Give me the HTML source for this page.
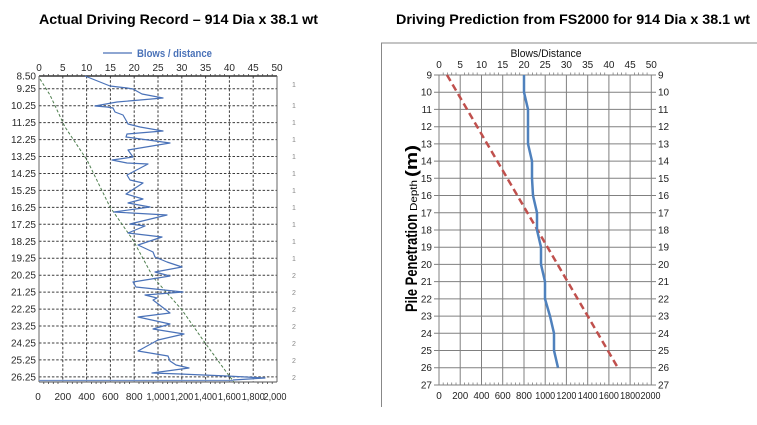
<!DOCTYPE html>
<html><head><meta charset="utf-8">
<style>
html,body{margin:0;padding:0;background:#fff;}
svg{display:block;}
text{font-family:"Liberation Sans",sans-serif;}
</style></head>
<body>
<svg width="757" height="425" viewBox="0 0 757 425" xmlns="http://www.w3.org/2000/svg">
<rect width="757" height="425" fill="#fff"/>

<!-- Titles -->
<text x="39" y="24" font-size="14" font-weight="bold" fill="#000" textLength="279" lengthAdjust="spacingAndGlyphs">Actual Driving Record – 914 Dia x 38.1 wt</text>
<text x="396" y="24" font-size="14" font-weight="bold" fill="#000" textLength="354" lengthAdjust="spacingAndGlyphs">Driving Prediction from FS2000 for 914 Dia x 38.1 wt</text>

<!-- ================= LEFT CHART ================= -->
<g>
  <!-- legend -->
  <line x1="103" y1="53" x2="132" y2="53" stroke="#4a72b8" stroke-width="1.2"/>
  <text x="137" y="57" font-size="11" font-weight="bold" fill="#4a72b8" textLength="75" lengthAdjust="spacingAndGlyphs">Blows / distance</text>

  <!-- vertical dashed grid -->
  <g stroke="#3c3c3c" stroke-width="1" stroke-dasharray="2.5,1.8">
    <line x1="62.8" y1="76" x2="62.8" y2="382"/>
    <line x1="86.6" y1="76" x2="86.6" y2="382"/>
    <line x1="110.4" y1="76" x2="110.4" y2="382"/>
    <line x1="134.2" y1="76" x2="134.2" y2="382"/>
    <line x1="158" y1="76" x2="158" y2="382"/>
    <line x1="181.8" y1="76" x2="181.8" y2="382"/>
    <line x1="205.6" y1="76" x2="205.6" y2="382"/>
    <line x1="229.4" y1="76" x2="229.4" y2="382"/>
    <line x1="253.2" y1="76" x2="253.2" y2="382"/>
  </g>
  <!-- horizontal dashed grid -->
  <g stroke="#3c3c3c" stroke-width="1" stroke-dasharray="2.5,1.8">
    <line x1="39" y1="88.7" x2="277" y2="88.7"/>
    <line x1="39" y1="105.7" x2="277" y2="105.7"/>
    <line x1="39" y1="122.6" x2="277" y2="122.6"/>
    <line x1="39" y1="139.6" x2="277" y2="139.6"/>
    <line x1="39" y1="156.5" x2="277" y2="156.5"/>
    <line x1="39" y1="173.5" x2="277" y2="173.5"/>
    <line x1="39" y1="190.4" x2="277" y2="190.4"/>
    <line x1="39" y1="207.4" x2="277" y2="207.4"/>
    <line x1="39" y1="224.3" x2="277" y2="224.3"/>
    <line x1="39" y1="241.3" x2="277" y2="241.3"/>
    <line x1="39" y1="258.2" x2="277" y2="258.2"/>
    <line x1="39" y1="275.2" x2="277" y2="275.2"/>
    <line x1="39" y1="292.1" x2="277" y2="292.1"/>
    <line x1="39" y1="309.1" x2="277" y2="309.1"/>
    <line x1="39" y1="326" x2="277" y2="326"/>
    <line x1="39" y1="343" x2="277" y2="343"/>
    <line x1="39" y1="359.9" x2="277" y2="359.9"/>
    <line x1="39" y1="376.9" x2="277" y2="376.9"/>
  </g>
  <!-- frame -->
  <line x1="39" y1="76" x2="277" y2="76" stroke="#333" stroke-width="1.6"/>
  <line x1="39" y1="76" x2="39" y2="382" stroke="#666" stroke-width="1"/>
  <line x1="277" y1="76" x2="277" y2="382" stroke="#666" stroke-width="1"/>
  <line x1="39" y1="382" x2="277" y2="382" stroke="#555" stroke-width="1"/>
  <!-- top minor ticks -->
  <g stroke="#444" stroke-width="0.8">
    <path d="M43.8 76v-2M48.5 76v-2M53.3 76v-2M58 76v-2M67.6 76v-2M72.3 76v-2M77.1 76v-2M81.8 76v-2M91.4 76v-2M96.1 76v-2M100.9 76v-2M105.6 76v-2M115.2 76v-2M119.9 76v-2M124.7 76v-2M129.4 76v-2M139 76v-2M143.7 76v-2M148.5 76v-2M153.2 76v-2M162.8 76v-2M167.5 76v-2M172.3 76v-2M177 76v-2M186.6 76v-2M191.3 76v-2M196.1 76v-2M200.8 76v-2M210.4 76v-2M215.1 76v-2M219.9 76v-2M224.6 76v-2M234.2 76v-2M238.9 76v-2M243.7 76v-2M248.4 76v-2M258 76v-2M262.7 76v-2M267.5 76v-2M272.2 76v-2"/>
    <path d="M43.8 382v2M48.5 382v2M53.3 382v2M58 382v2M67.6 382v2M72.3 382v2M77.1 382v2M81.8 382v2M91.4 382v2M96.1 382v2M100.9 382v2M105.6 382v2M115.2 382v2M119.9 382v2M124.7 382v2M129.4 382v2M139 382v2M143.7 382v2M148.5 382v2M153.2 382v2M162.8 382v2M167.5 382v2M172.3 382v2M177 382v2M186.6 382v2M191.3 382v2M196.1 382v2M200.8 382v2M210.4 382v2M215.1 382v2M219.9 382v2M224.6 382v2M234.2 382v2M238.9 382v2M243.7 382v2M248.4 382v2M258 382v2M262.7 382v2M267.5 382v2M272.2 382v2"/>
  </g>
  <!-- green dashed trend -->
  <polyline fill="none" stroke="#4f7f4f" stroke-width="1" stroke-dasharray="3,2"
    points="40,79 50,95 65,127 87,160 110,207 133,240 153,277 182,310 203,340 227,373 234,382"/>
  <!-- bottom blue line -->
  <line x1="39" y1="380.5" x2="233" y2="380.5" stroke="#6f8fc8" stroke-width="1.3"/>
  <!-- blue series -->
  <polyline fill="none" stroke="#4a72b8" stroke-width="1.2" stroke-linejoin="round"
    points="85,76 110,86 127,88 133,89 142,94 163,98 117,102 95,106 107,107 113,108 115,112 123,115 127,122 128,124 140,127 163,131 127,134 126,137 170,143 128,150 133,157 112,160 127,163 148,164 127,175 130,180 143,183 126,194 143,199 128,203 150,207 114,212 167,215 130,224 145,226 128,233 162,237 138,245 153,252 155,257 167,262 182,267 155,272 170,276 133,282 136,287 183,292 145,295 157,298 153,300 170,313 138,317 170,324 153,329 184,334 158,340 138,351 162,355 168,356 170,361 176,365 189,368 152,373 180,374 227,376 265,378 233,380"/>

  <!-- top labels -->
  <g font-size="10" fill="#2a2a2a" text-anchor="middle">
    <text x="39" y="71">0</text><text x="62.8" y="71">5</text><text x="86.6" y="71">10</text>
    <text x="110.4" y="71">15</text><text x="134.2" y="71">20</text><text x="158" y="71">25</text>
    <text x="181.8" y="71">30</text><text x="205.6" y="71">35</text><text x="229.4" y="71">40</text>
    <text x="253.2" y="71">45</text><text x="277" y="71">50</text>
  </g>
  <!-- left labels -->
  <g font-size="10" fill="#2a2a2a" text-anchor="end">
    <text x="36" y="79.5">8.50</text><text x="36" y="92.2">9.25</text>
    <text x="36" y="109.2">10.25</text><text x="36" y="126.1">11.25</text>
    <text x="36" y="143.1">12.25</text><text x="36" y="160">13.25</text>
    <text x="36" y="177">14.25</text><text x="36" y="193.9">15.25</text>
    <text x="36" y="210.9">16.25</text><text x="36" y="227.8">17.25</text>
    <text x="36" y="244.8">18.25</text><text x="36" y="261.7">19.25</text>
    <text x="36" y="278.7">20.25</text><text x="36" y="295.6">21.25</text>
    <text x="36" y="312.6">22.25</text><text x="36" y="329.5">23.25</text>
    <text x="36" y="346.5">24.25</text><text x="36" y="363.4">25.25</text>
    <text x="36" y="380.4">26.25</text>
  </g>
  <!-- bottom labels -->
  <g font-size="10" fill="#2a2a2a" text-anchor="middle">
    <text x="38" y="400">0</text><text x="62.8" y="400">200</text><text x="86.6" y="400">400</text>
    <text x="110.4" y="400">600</text><text x="134.2" y="400">800</text>
    <text x="158" y="400" textLength="23" lengthAdjust="spacingAndGlyphs">1,000</text>
    <text x="181.8" y="400" textLength="23" lengthAdjust="spacingAndGlyphs">1,200</text>
    <text x="205.6" y="400" textLength="23" lengthAdjust="spacingAndGlyphs">1,400</text>
    <text x="229.4" y="400" textLength="23" lengthAdjust="spacingAndGlyphs">1,600</text>
    <text x="253.2" y="400" textLength="23" lengthAdjust="spacingAndGlyphs">1,800</text>
    <text x="275" y="400" textLength="23" lengthAdjust="spacingAndGlyphs">2,000</text>
  </g>
  <!-- clipped right labels -->
  <g font-size="7" fill="#888">
    <text x="292" y="87">1</text><text x="292" y="108">1</text><text x="292" y="125">1</text>
    <text x="292" y="142">1</text><text x="292" y="159">1</text><text x="292" y="176">1</text>
    <text x="292" y="193">1</text><text x="292" y="210">1</text><text x="292" y="227">1</text>
    <text x="292" y="244">1</text><text x="292" y="261">1</text><text x="292" y="278">2</text>
    <text x="292" y="295">2</text><text x="292" y="312">2</text><text x="292" y="329">2</text>
    <text x="292" y="346">2</text><text x="292" y="363">2</text><text x="292" y="380">2</text>
  </g>
</g>

<!-- ================= RIGHT CHART ================= -->
<g>
  <!-- box -->
  <line x1="381" y1="43" x2="757" y2="43" stroke="#888" stroke-width="1"/>
  <line x1="381.5" y1="43" x2="381.5" y2="407" stroke="#888" stroke-width="1"/>

  <text x="546" y="57" font-size="11" fill="#111" text-anchor="middle" textLength="71" lengthAdjust="spacingAndGlyphs">Blows/Distance</text>

  <!-- grid -->
  <g stroke="#808080" stroke-width="1">
    <line x1="439" y1="75" x2="439" y2="385"/>
    <line x1="460.2" y1="75" x2="460.2" y2="385"/>
    <line x1="481.5" y1="75" x2="481.5" y2="385"/>
    <line x1="502.7" y1="75" x2="502.7" y2="385"/>
    <line x1="524" y1="75" x2="524" y2="385"/>
    <line x1="545.2" y1="75" x2="545.2" y2="385"/>
    <line x1="566.4" y1="75" x2="566.4" y2="385"/>
    <line x1="587.7" y1="75" x2="587.7" y2="385"/>
    <line x1="608.9" y1="75" x2="608.9" y2="385"/>
    <line x1="630.1" y1="75" x2="630.1" y2="385"/>
    <line x1="651.3" y1="75" x2="651.3" y2="385"/>
  </g>
  <g stroke="#808080" stroke-width="1">
    <line x1="434" y1="75" x2="656" y2="75"/>
    <line x1="434" y1="92.2" x2="656" y2="92.2"/>
    <line x1="434" y1="109.4" x2="656" y2="109.4"/>
    <line x1="434" y1="126.7" x2="656" y2="126.7"/>
    <line x1="434" y1="143.9" x2="656" y2="143.9"/>
    <line x1="434" y1="161.1" x2="656" y2="161.1"/>
    <line x1="434" y1="178.3" x2="656" y2="178.3"/>
    <line x1="434" y1="195.5" x2="656" y2="195.5"/>
    <line x1="434" y1="212.8" x2="656" y2="212.8"/>
    <line x1="434" y1="230" x2="656" y2="230"/>
    <line x1="434" y1="247.2" x2="656" y2="247.2"/>
    <line x1="434" y1="264.4" x2="656" y2="264.4"/>
    <line x1="434" y1="281.6" x2="656" y2="281.6"/>
    <line x1="434" y1="298.9" x2="656" y2="298.9"/>
    <line x1="434" y1="316.1" x2="656" y2="316.1"/>
    <line x1="434" y1="333.3" x2="656" y2="333.3"/>
    <line x1="434" y1="350.5" x2="656" y2="350.5"/>
    <line x1="434" y1="367.7" x2="656" y2="367.7"/>
    <line x1="434" y1="385" x2="656" y2="385"/>
  </g>
  <!-- minor ticks top & bottom -->
  <g stroke="#808080" stroke-width="0.8">
    <path d="M443.2 75v-2.5M447.5 75v-2.5M451.7 75v-2.5M456 75v-2.5M464.5 75v-2.5M468.7 75v-2.5M473 75v-2.5M477.2 75v-2.5M485.7 75v-2.5M490 75v-2.5M494.2 75v-2.5M498.5 75v-2.5M507 75v-2.5M511.2 75v-2.5M515.5 75v-2.5M519.7 75v-2.5M528.2 75v-2.5M532.5 75v-2.5M536.7 75v-2.5M541 75v-2.5M549.4 75v-2.5M553.7 75v-2.5M557.9 75v-2.5M562.2 75v-2.5M570.7 75v-2.5M574.9 75v-2.5M579.2 75v-2.5M583.4 75v-2.5M591.9 75v-2.5M596.2 75v-2.5M600.4 75v-2.5M604.7 75v-2.5M613.1 75v-2.5M617.4 75v-2.5M621.6 75v-2.5M625.9 75v-2.5M634.4 75v-2.5M638.6 75v-2.5M642.9 75v-2.5M647.1 75v-2.5"/>
    <path d="M443.2 385v-2.5M447.5 385v-2.5M451.7 385v-2.5M456 385v-2.5M464.5 385v-2.5M468.7 385v-2.5M473 385v-2.5M477.2 385v-2.5M485.7 385v-2.5M490 385v-2.5M494.2 385v-2.5M498.5 385v-2.5M507 385v-2.5M511.2 385v-2.5M515.5 385v-2.5M519.7 385v-2.5M528.2 385v-2.5M532.5 385v-2.5M536.7 385v-2.5M541 385v-2.5M549.4 385v-2.5M553.7 385v-2.5M557.9 385v-2.5M562.2 385v-2.5M570.7 385v-2.5M574.9 385v-2.5M579.2 385v-2.5M583.4 385v-2.5M591.9 385v-2.5M596.2 385v-2.5M600.4 385v-2.5M604.7 385v-2.5M613.1 385v-2.5M617.4 385v-2.5M621.6 385v-2.5M625.9 385v-2.5M634.4 385v-2.5M638.6 385v-2.5M642.9 385v-2.5M647.1 385v-2.5"/>
  </g>

  <!-- red dashed prediction -->
  <line x1="447" y1="75" x2="618" y2="368" stroke="#c0504d" stroke-width="2.5" stroke-dasharray="7,4"/>
  <!-- blue series -->
  <polyline fill="none" stroke="#4f81bd" stroke-width="2.5" stroke-linejoin="round"
    points="524,75 524,92.2 528,109.4 528,126.7 528,143.9 532,161.1 532,178.3 533,195.5 537,212.8 537,230 541,247.2 541,264.4 545,281.6 545,298.9 550,316.1 554,333.3 554,350.5 558,367.7"/>

  <!-- top labels -->
  <g font-size="10" fill="#222" text-anchor="middle">
    <text x="439" y="68">0</text><text x="460.2" y="68">5</text><text x="481.5" y="68">10</text>
    <text x="502.7" y="68">15</text><text x="524" y="68">20</text><text x="545.2" y="68">25</text>
    <text x="566.4" y="68">30</text><text x="587.7" y="68">35</text><text x="608.9" y="68">40</text>
    <text x="630.1" y="68">45</text><text x="651.3" y="68">50</text>
  </g>
  <!-- left labels -->
  <g font-size="10" fill="#222" text-anchor="end">
    <text x="432" y="78.5">9</text><text x="432" y="95.7">10</text><text x="432" y="112.9">11</text>
    <text x="432" y="130.2">12</text><text x="432" y="147.4">13</text><text x="432" y="164.6">14</text>
    <text x="432" y="181.8">15</text><text x="432" y="199">16</text><text x="432" y="216.3">17</text>
    <text x="432" y="233.5">18</text><text x="432" y="250.7">19</text><text x="432" y="267.9">20</text>
    <text x="432" y="285.1">21</text><text x="432" y="302.4">22</text><text x="432" y="319.6">23</text>
    <text x="432" y="336.8">24</text><text x="432" y="354">25</text><text x="432" y="371.2">26</text>
    <text x="432" y="388.5">27</text>
  </g>
  <!-- right labels -->
  <g font-size="10" fill="#222" text-anchor="start">
    <text x="658" y="78.5">9</text><text x="658" y="95.7">10</text><text x="658" y="112.9">11</text>
    <text x="658" y="130.2">12</text><text x="658" y="147.4">13</text><text x="658" y="164.6">14</text>
    <text x="658" y="181.8">15</text><text x="658" y="199">16</text><text x="658" y="216.3">17</text>
    <text x="658" y="233.5">18</text><text x="658" y="250.7">19</text><text x="658" y="267.9">20</text>
    <text x="658" y="285.1">21</text><text x="658" y="302.4">22</text><text x="658" y="319.6">23</text>
    <text x="658" y="336.8">24</text><text x="658" y="354">25</text><text x="658" y="371.2">26</text>
    <text x="658" y="388.5">27</text>
  </g>
  <!-- bottom labels -->
  <g font-size="10" fill="#222" text-anchor="middle">
    <text x="439" y="399">0</text>
    <text x="460.2" y="399" textLength="16" lengthAdjust="spacingAndGlyphs">200</text>
    <text x="481.5" y="399" textLength="16" lengthAdjust="spacingAndGlyphs">400</text>
    <text x="502.7" y="399" textLength="16" lengthAdjust="spacingAndGlyphs">600</text>
    <text x="524" y="399" textLength="16" lengthAdjust="spacingAndGlyphs">800</text>
    <text x="545.2" y="399" textLength="20" lengthAdjust="spacingAndGlyphs">1000</text>
    <text x="566.4" y="399" textLength="20" lengthAdjust="spacingAndGlyphs">1200</text>
    <text x="587.7" y="399" textLength="20" lengthAdjust="spacingAndGlyphs">1400</text>
    <text x="608.9" y="399" textLength="20" lengthAdjust="spacingAndGlyphs">1600</text>
    <text x="630.1" y="399" textLength="20" lengthAdjust="spacingAndGlyphs">1800</text>
    <text x="650.5" y="399" textLength="20" lengthAdjust="spacingAndGlyphs">2000</text>
  </g>

  <!-- y axis title -->
  <g transform="translate(417,312) rotate(-90)">
    <text x="0" y="0" font-size="17" font-weight="bold" fill="#000" textLength="98" lengthAdjust="spacingAndGlyphs">Pile Penetration</text>
    <text x="101" y="0" font-size="10" fill="#000" textLength="31" lengthAdjust="spacingAndGlyphs">Depth</text>
    <text x="135" y="0" font-size="17" font-weight="bold" fill="#000" textLength="32" lengthAdjust="spacingAndGlyphs">(m)</text>
  </g>
</g>
</svg>
</body></html>
